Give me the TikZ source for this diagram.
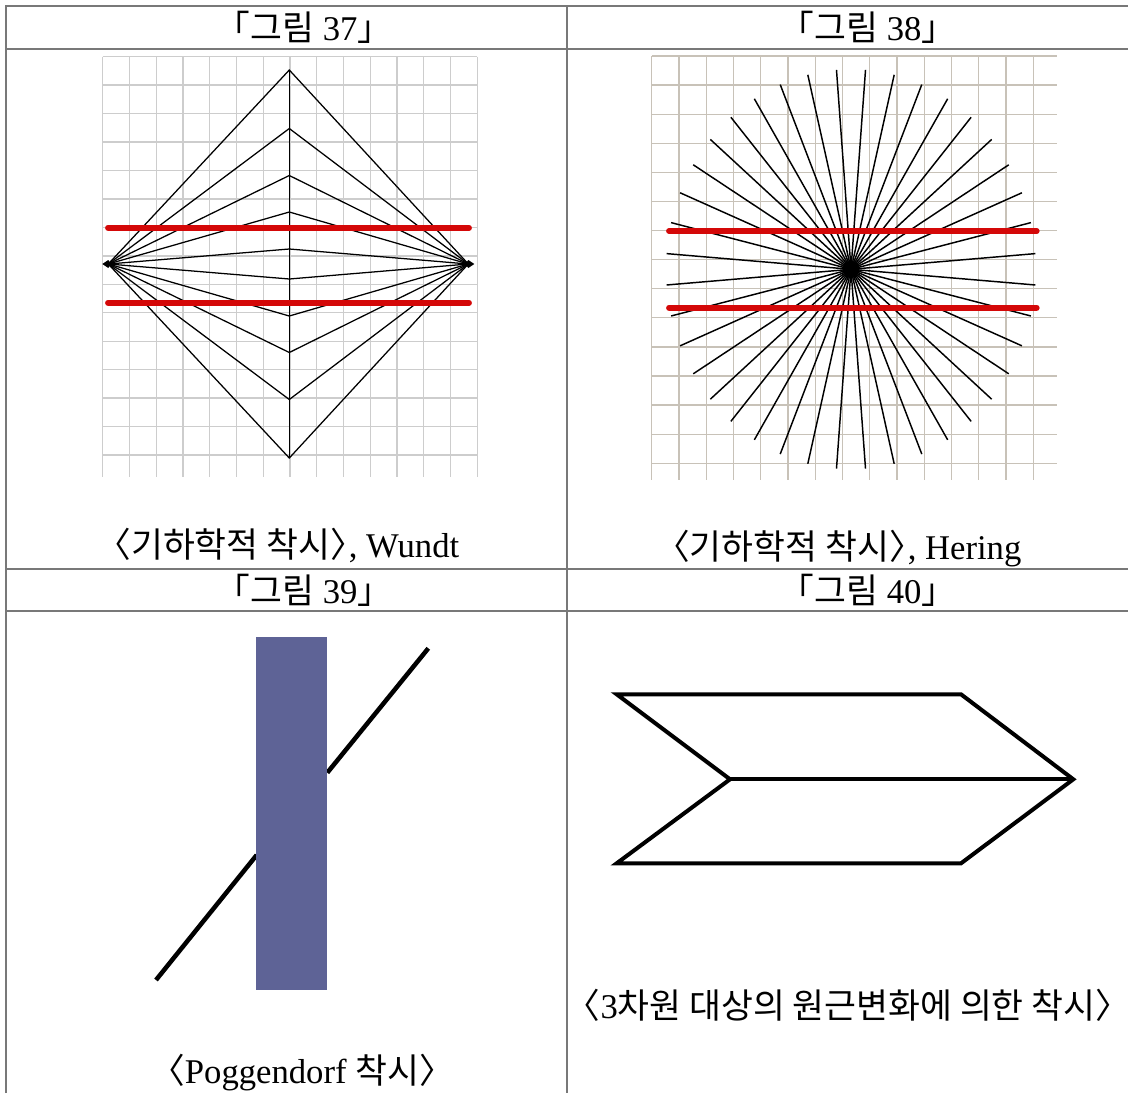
\documentclass[tikz,border=0pt]{standalone}
\usepackage{fontspec}
\setmainfont{Liberation Serif}
\newfontfamily\kr{Noto Sans CJK KR}
\newfontfamily\krh[RawFeature=+halt]{Noto Sans CJK KR}
\definecolor{tablegray}{RGB}{120,120,120}
\definecolor{gridgray}{RGB}{205,205,205}
\definecolor{gridtan}{RGB}{200,194,184}
\definecolor{illred}{RGB}{212,8,8}
\definecolor{barblue}{RGB}{94,99,150}

\begin{document}
\begin{tikzpicture}[x=0.75pt, y=-0.75pt,
  rule/.style={draw=tablegray, line width=1pt},
  redbar/.style={draw=illred, line width=4.4pt, line cap=round},
  fan/.style={draw=black, line width=0.95pt},
  thick line/.style={draw=black, line width=3pt},
  label/.style={inner sep=0pt, font=\fontsize{26}{30}\selectfont}]
\useasboundingbox (0,0) rectangle (1128,1093);

% table
\draw[rule] (6,1093) -- (6,6) -- (1128,6);
\foreach \y in {49,569,611} \draw[rule] (6,\y) -- (1128,\y);
\draw[rule] (567,6) -- (567,1093);

\node[label] (t37) at (304,27) {{\kr 「그림} 37{\kr 」}};
\node[label] (t38) at (868,27) {{\kr 「그림} 38{\kr 」}};
\node[label] (t39) at (304,590) {{\kr 「그림} 39{\kr 」}};
\node[label] (t40) at (868,590) {{\kr 「그림} 40{\kr 」}};

% Wundt
\foreach \i in {0,...,14} {
  \draw[gridgray, line width=1pt] (102.7+26.75*\i,56.7) -- (102.7+26.75*\i,477);
  \draw[gridgray, line width=1pt] (102.7,56.7+28.45*\i) -- (477,56.7+28.45*\i);
}
\coordinate (wl) at (108.3,264);
\coordinate (wr) at (468.3,264);
\foreach \d in {15,52,88.5,135.5,194}
  \draw[fan] (wl) -- (289.3,264-\d) -- (wr) -- (289.3,264+\d) -- cycle;
\draw[fan] (289.3,70) -- (289.3,458);
\fill (wl) +(-6,0) -- +(0,-4) -- +(3,0) -- +(0,4) -- cycle;
\fill (wr) +(6,0) -- +(0,-4) -- +(-3,0) -- +(0,4) -- cycle;
\draw[redbar] (108,227.7) -- (469,227.7);
\draw[redbar] (108,302.7) -- (469,302.7);
\node[label] (c37) at (286.5,545) {{\krh 〈기하학적 착시〉}\kern1pt, Wundt};

% Hering
\foreach \i in {0,...,14} {
  \draw[gridtan, line width=1pt] (651.7+27.26*\i,56) -- (651.7+27.26*\i,480);
  \draw[gridtan, line width=1pt] (651.7,56+29.09*\i) -- (1056.7,56+29.09*\i);
}
\coordinate (hc) at (851,269.3);
\foreach \k in {0,...,39}
  \draw[fan, line width=1.1pt] (hc) -- ++(4.5+9*\k:185 and 200);
\fill (hc) circle (8.5);
\draw[redbar] (669,231) -- (1036.7,231);
\draw[redbar] (669,307.7) -- (1036.7,307.7);
\node[label] (c38) at (847,549) {{\krh 〈기하학적 착시〉}\kern1pt, Hering};

% Poggendorf
\draw[black, line width=3.4pt] (156,980) -- (256.7,855);
\draw[black, line width=3.4pt] (327.3,772.7) -- (428.3,648.3);
\fill[barblue] (255.7,636.7) rectangle (327.3,990);
\node[label] (c39) at (302,1073) {{\krh 〈}Poggendorf {\kr 착시}{\krh 〉}};

% arrow
\coordinate (ntl) at (616.7,694.3);
\coordinate (ntr) at (961,694.3);
\coordinate (tip) at (1073.3,779.3);
\coordinate (nbr) at (961,863.3);
\coordinate (nbl) at (616.7,863.3);
\coordinate (notch) at (730,779.3);
\draw[thick line] (ntl) -- (ntr) -- (tip) -- (nbr) -- (nbl) -- (notch) -- cycle;
\draw[thick line] (notch) -- (tip);
\node[label] (c40) at (848,1005) {{\krh 〈}3{\kr 차원 대상의 원근변화에 의한 착시}{\krh 〉}};
\end{tikzpicture}
\end{document}
